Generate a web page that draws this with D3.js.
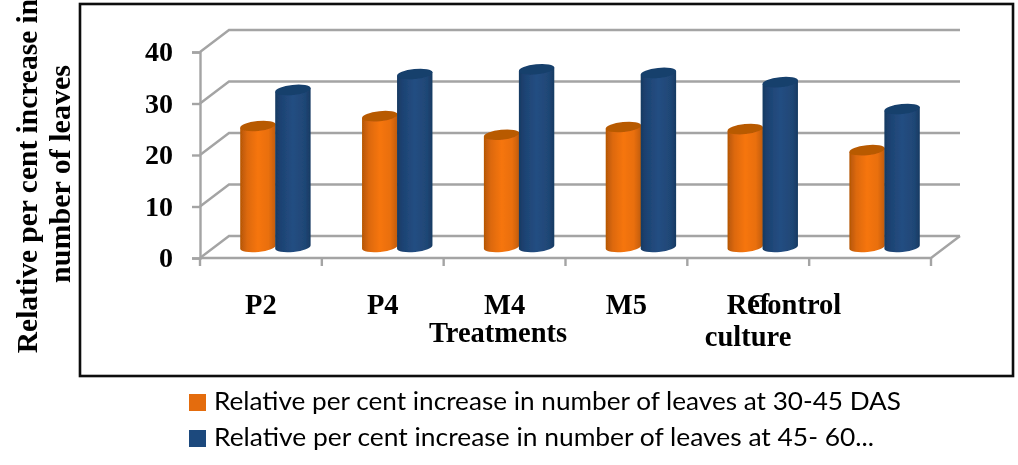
<!DOCTYPE html>
<html><head><meta charset="utf-8">
<script src="https://cdn.jsdelivr.net/npm/d3@7/dist/d3.min.js"></script>
<style>html,body{margin:0;padding:0;background:#fff;overflow:hidden}svg{display:block}
text{font-family:"Liberation Serif",serif;font-weight:bold;fill:#000}</style>
</head><body><svg id="c" width="1018" height="465"></svg>
<script>
const categories = ["P2","P4","M4","M5","Ref culture","Control"];
const seriesNames = ["Relative per cent increase in number of leaves at 30-45 DAS","Relative per cent increase in number of leaves at 45- 60..."];
const series3045 = [23.5,25.4,21.8,23.3,22.9,18.8];
const series4560 = [30.5,33.6,34.5,33.8,32.0,26.8];
const yTicks = [0,10,20,30,40];

const svg = d3.select("#c");
const defs = svg.append("defs");
const blur = defs.append("filter").attr("id","soft").attr("x","-5%").attr("y","-5%").attr("width","110%").attr("height","110%");
blur.append("feGaussianBlur").attr("stdDeviation",0.5);
function grad(id,stops){
  const g = defs.append("linearGradient").attr("id",id);
  stops.forEach(([o,c])=>g.append("stop").attr("offset",o).attr("stop-color",c));
}
grad("gO",[[0,"#b55605"],[0.2,"#dd690b"],[0.5,"#f6750f"],[0.8,"#e96f0d"],[1,"#c05c07"]]);
grad("gB",[[0,"#173a62"],[0.15,"#1d4272"],[0.5,"#234e82"],[0.85,"#1f4675"],[1,"#173a62"]]);

const root = svg.append("g").attr("filter","url(#soft)");
const y = d3.scaleLinear().domain([0,40]).range([258,52]);
const x = d3.scaleBand().domain(categories).range([200,931]);
const dx = 29, dy = -22;

// frame
root.append("rect").attr("x",80).attr("y",4).attr("width",933).attr("height",372)
  .attr("fill","#fff").attr("stroke","#111").attr("stroke-width",2.6);

// walls & grid
const gridC = "#a4a4a4";
yTicks.forEach(t=>{
  root.append("path").attr("fill","none").attr("stroke",gridC).attr("stroke-width",2.4)
    .attr("d",`M${x.range()[0]},${y(t)}L${x.range()[0]+dx},${y(t)+dy}L${x.range()[1]+dx},${y(t)+dy}`);
});
root.append("path").attr("fill","none").attr("stroke",gridC).attr("stroke-width",2.4)
  .attr("d",`M${x.range()[0]},${y(0)}L${x.range()[1]},${y(0)}L${x.range()[1]+dx},${y(0)+dy}`);

// y axis
const yAxis = root.append("g").attr("transform",`translate(${x.range()[0]},0)`)
  .call(d3.axisLeft(y).tickValues(yTicks).tickSize(8).tickPadding(19));
yAxis.select(".domain").attr("stroke",gridC).attr("stroke-width",2.4);
yAxis.selectAll(".tick line").attr("stroke",gridC).attr("stroke-width",2.4);
yAxis.selectAll("text").attr("font-size",28).style("font-family",'"Liberation Serif",serif').style("font-weight","bold").attr("fill","#000");

// category ticks
const xTickVals = categories.map(c=>x(c)).concat(x.range()[1]);
root.selectAll(".xt").data(xTickVals).join("line").attr("class","xt")
  .attr("x1",d=>d).attr("x2",d=>d).attr("y1",y(0)).attr("y2",y(0)+8)
  .attr("stroke",gridC).attr("stroke-width",2.4);

// cylinders
const rx = 17.8, ry = 5, tilt = -6;
const rad = tilt*Math.PI/180;
const ex = rx*Math.cos(rad), ey = rx*Math.sin(rad);
function cyl(cx,v,fill,top){
  const yb = y(0)+dy/2, yt = y(v)+dy/2;
  const g = root.append("g");
  g.append("path").attr("fill",`url(#${fill})`)
    .attr("d",`M${cx-ex},${yt-ey}L${cx+ex},${yt+ey}L${cx+ex},${yb+ey}`+
      `A${rx},${ry} ${tilt} 0 1 ${cx-ex},${yb-ey}Z`);
  g.append("ellipse").attr("cx",cx).attr("cy",yt).attr("rx",rx).attr("ry",ry)
    .attr("transform",`rotate(${tilt} ${cx} ${yt})`).attr("fill",top);
}
categories.forEach((c,i)=>{
  const mid = x(c)+x.bandwidth()/2+dx/2;
  cyl(mid-17.5,series3045[i],"gO","#b85a06");
  cyl(mid+17.5,series4560[i],"gB","#173f6c");
});

// category labels
const labelY = 314;
function lab(t,cx,by,size,sx){
  root.append("text").attr("transform",`translate(${cx},${by}) scale(${sx||1},1)`)
    .attr("text-anchor","middle").attr("font-size",size).text(t);
}
categories.forEach((c,i)=>{
  const parts = c.split(" ");
  const base = x(c)+x.bandwidth()/2;
  if(c==="Control"){ lab(c,794,labelY,28.5); return; }
  const cx = c==="Ref culture" ? 748 : base;
  parts.forEach((p,j)=>lab(p,cx,labelY+j*32,28.5));
});
lab("Treatments",498,342,28.5);

// y title
root.append("text").attr("transform","translate(37,176) rotate(-90)").attr("text-anchor","middle")
  .attr("font-size",29.5).text("Relative per cent increase in");
root.append("text").attr("transform","translate(70,174) rotate(-90)").attr("text-anchor","middle")
  .attr("font-size",30).text("number of leaves");

// legend
const legC = ["#e46c0a","#1f497d"];
seriesNames.forEach((s,i)=>{
  root.append("rect").attr("x",189).attr("y",394+i*36).attr("width",17).attr("height",17).attr("fill",legC[i]);
  root.append("text").attr("x",214).attr("y",410+i*36)
    .style("font-family",'Lato,sans-serif').style("font-weight","normal").attr("fill","#222")
    .attr("font-size",25).attr("textLength",i==0?687:660).attr("lengthAdjust","spacingAndGlyphs").text(s);
});
</script></body></html>
